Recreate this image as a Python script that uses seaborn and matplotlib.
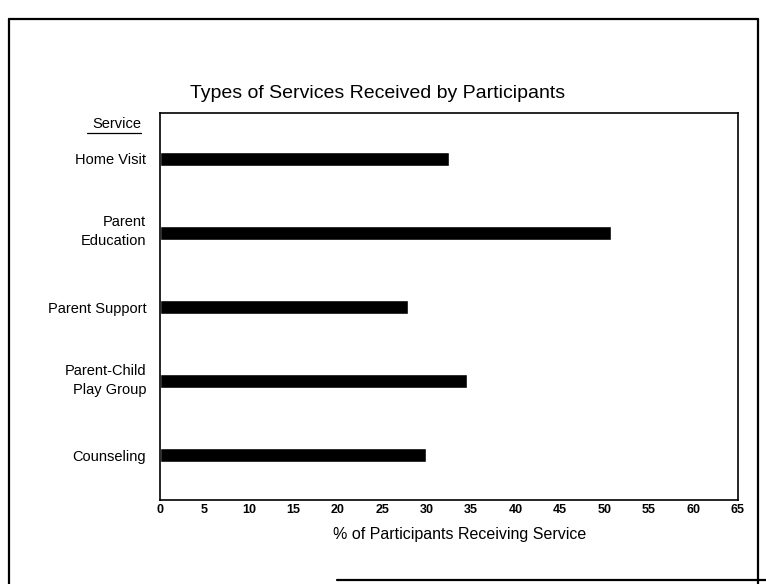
import matplotlib
matplotlib.use("Agg")
import matplotlib.pyplot as plt
import matplotlib.transforms as mtransforms
import seaborn as sns
import pandas as pd
from matplotlib.lines import Line2D

services = ["Home Visit", "Parent\nEducation", "Parent Support", "Parent-Child\nPlay Group", "Counseling"]
percent = [32.5, 50.8, 27.9, 34.5, 29.9]
xticks = list(range(0, 70, 5))

df = pd.DataFrame({"service": services, "percent": percent})

sns.set_theme(style="white")
plt.rcParams["font.family"] = ["Liberation Sans", "DejaVu Sans"]
plt.rcParams["text.color"] = "black"
plt.rcParams["axes.labelcolor"] = "black"
plt.rcParams["xtick.color"] = "black"
plt.rcParams["ytick.color"] = "black"

fig = plt.figure(figsize=(7.66, 5.84), dpi=100)
ax = fig.add_axes([0.209, 0.144, 0.754, 0.663])

sns.barplot(data=df, x="percent", y="service", orient="h", color="black",
            width=0.19, ax=ax, saturation=1)

ax.set_xlim(0, 65)
ax.set_ylim(4.6, -0.62)
ax.set_xticks(xticks)
ax.set_xticklabels([str(t) for t in xticks], fontsize=9, fontweight="bold")
ax.set_yticks(range(len(services)))
ax.set_yticklabels(services, fontsize=10.5, ha="right", linespacing=1.45)
ax.tick_params(axis="y", length=0, pad=10)
ax.tick_params(axis="x", length=0, pad=3)
for lbl in ax.get_yticklabels():
    if "\n" in lbl.get_text():
        lbl.set_transform(lbl.get_transform() +
                          mtransforms.ScaledTranslation(0, 5 / 100, fig.dpi_scale_trans))
ax.set_ylabel("")
ax.set_xlabel("% of Participants Receiving Service", fontsize=11.5, labelpad=8)
ax.xaxis.set_label_coords(0.519, -0.07)
for s in ax.spines.values():
    s.set_visible(True)
    s.set_color("black")
    s.set_linewidth(1.2)

fig.text(0.493, 0.84, "Types of Services Received by Participants",
         ha="center", va="center", fontsize=14)

# "Service" header, underlined
fig.text(0.184, 0.787, "Service", ha="right", va="center", fontsize=10.5)
fig.add_artist(Line2D([0.114, 0.184], [0.772, 0.772], transform=fig.transFigure,
                      color="black", lw=0.9))

# outer frame (scanned page border)
frame = dict(transform=fig.transFigure, color="black", lw=1.6)
fig.add_artist(Line2D([0.012, 0.012], [0.0, 0.968], **frame))
fig.add_artist(Line2D([0.012, 0.990], [0.968, 0.968], **frame))
fig.add_artist(Line2D([0.990, 0.990], [0.0, 0.968], **frame))
fig.add_artist(Line2D([0.44, 1.0], [0.007, 0.007], **frame))

fig.savefig("out.png", dpi=100, facecolor="white")
